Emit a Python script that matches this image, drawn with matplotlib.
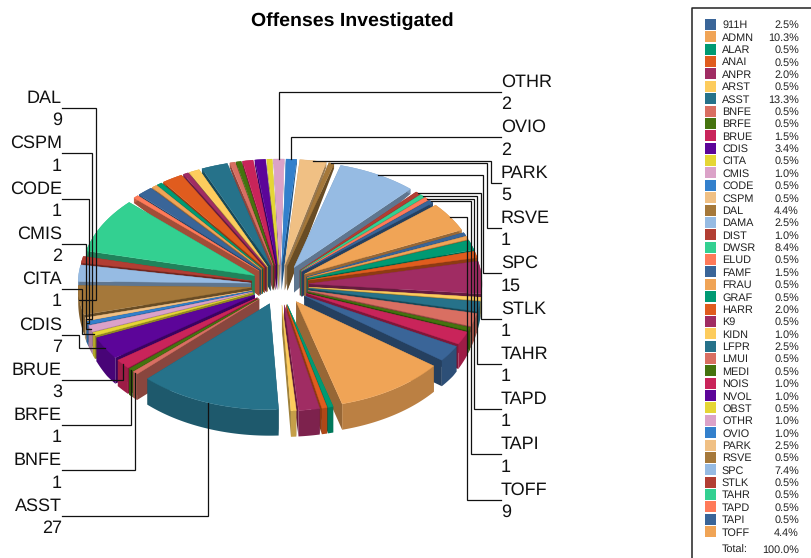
import numpy as np
import matplotlib
matplotlib.use('Agg')
import matplotlib.pyplot as plt
from matplotlib.patches import Polygon, Rectangle

plt.rcParams['font.family'] = ['Liberation Sans', 'DejaVu Sans']
plt.rcParams['text.hinting'] = 'no_hinting'

# data
categories = ['911H', 'ADMN', 'ALAR', 'ANAI', 'ANPR', 'ARST', 'ASST', 'BNFE', 'BRFE', 'BRUE',
              'CDIS', 'CITA', 'CMIS', 'CODE', 'CSPM', 'DAL', 'DAMA', 'DIST', 'DWSR', 'ELUD',
              'FAMF', 'FRAU', 'GRAF', 'HARR', 'K9', 'KIDN', 'LFPR', 'LMUI', 'MEDI', 'NOIS',
              'NVOL', 'OBST', 'OTHR', 'OVIO', 'PARK', 'RSVE', 'SPC', 'STLK', 'TAHR', 'TAPD',
              'TAPI', 'TOFF']
values = [5, 21, 1, 1, 4, 1, 27, 1, 1, 3,
          7, 1, 2, 1, 1, 9, 5, 2, 17, 1,
          3, 1, 1, 4, 1, 2, 5, 1, 1, 2,
          2, 1, 2, 2, 5, 1, 15, 1, 1, 1,
          1, 9]
# slices drawn in the pie that the legend table cuts off (names not shown)
unlisted_values = [1, 1, 3, 2, 10, 1, 3, 4, 1, 4]
total_label = '100.0%'

left_labels = ['DAL', 'CSPM', 'CODE', 'CMIS', 'CITA', 'CDIS', 'BRUE', 'BRFE', 'BNFE', 'ASST']
right_labels = ['OTHR', 'OVIO', 'PARK', 'RSVE', 'SPC', 'STLK', 'TAHR', 'TAPD', 'TAPI', 'TOFF']

palette = ['#3A6598', '#F0A456', '#009A73', '#E05C1E', '#A02C63', '#FDCC5D', '#26728A',
           '#D96F62', '#45730F', '#C9245A', '#5C0599', '#E5D635', '#DBA2C8', '#3380CC',
           '#F0C084', '#A5783A', '#96BBE3', '#B23E33', '#33D091', '#FF7A59']

# leader line columns, None means the line drops straight onto the slice
left_columns = [96, 92, 89, 86, 82, 79, None, None, None, None]
right_columns = [None, None, 491, 487, 483, 481, 477, 474, 471, 467.5]

# pie geometry in pixels
CX, CY = 280, 285
RX, RY = 173, 106
EX, EY = 29, 20
HUB_DEPTH = 25
START = 118.5


def shade(color, k):
    return tuple(c * k for c in matplotlib.colors.to_rgb(color))


def point(theta, rx, ry):
    t = np.radians(theta)
    return np.column_stack([rx * np.sin(t), -ry * np.cos(t)])


def rim_drop(pts):
    # the wall looks thin at the back of the pie and full height at the front
    d = np.interp(pts[:, 1], [190, 240, 350], [5, 6, 26])
    return np.column_stack([np.zeros(len(d)), d])


fig = plt.figure(figsize=(8.12, 5.58), dpi=100)
ax = fig.add_axes([0, 0, 1, 1])
ax.set_xlim(0, 812)
ax.set_ylim(558, 0)
ax.axis('off')

all_values = np.array(values + unlisted_values, dtype=float)
grand_total = all_values.sum()
edges = START + np.concatenate([[0], np.cumsum(all_values)]) / grand_total * 360
mids = (edges[:-1] + edges[1:]) / 2

# back slices first so the front ones paint over them
anchors = {}
order = np.argsort(-np.cos(np.radians(mids)))
for i in order:
    # the palette starts over for the slices the legend does not list
    color_i = i if i < len(categories) else i - len(categories)
    color = palette[color_i % len(palette)]
    a0, a1, mid = edges[i], edges[i + 1], mids[i]
    apex = np.array([CX, CY]) + point(mid, EX, EY)[0]
    arc = apex + point(np.linspace(a0, a1, max(4, int(a1 - a0) * 2)), RX, RY)
    arc_low = arc + rim_drop(arc)
    apex_low = apex + np.array([0, HUB_DEPTH])

    # radial faces then the outer wall
    for end, end_low in ((arc[0], arc_low[0]), (arc[-1], arc_low[-1])):
        face = np.array([apex, end, end_low, apex_low])
        ax.add_patch(Polygon(face, closed=True, fc=shade(color, 0.63), ec='none', zorder=2))
    wall = np.vstack([arc, arc_low[::-1]])
    ax.add_patch(Polygon(wall, closed=True, fc=shade(color, 0.78), ec='none', zorder=2))
    ax.add_patch(Polygon(np.vstack([apex, arc]), closed=True, fc=color,
                         ec=color, lw=0.3, zorder=2))
    if i < len(categories):
        anchors[categories[i]] = apex + point(mid, RX, RY)[0]

ax.text(352, 21, 'Offenses Investigated', fontsize=14, fontweight='bold',
        ha='center', va='center', color='black')

counts = dict(zip(categories, values))


def draw_labels(names, columns, first_y, text_x, line_x, ha):
    for k, (name, col) in enumerate(zip(names, columns)):
        y = first_y + k * 45.3
        ax_, ay = anchors[name]
        xs = [line_x, ax_ if col is None else col, ax_ if col is None else col, ax_]
        ys = [y, y, ay, ay]
        ax.plot(xs, ys, color='#111111', lw=0.9, zorder=5, solid_joinstyle='miter')
        ax.text(text_x, y + 1.5, f'{name}\n{counts[name]}', fontsize=13, ha=ha, va='center',
                linespacing=1.42, color='#111111', zorder=6)


draw_labels(left_labels, left_columns, 108, 62, 62, 'right')
draw_labels(right_labels, right_columns, 92, 501, 501, 'left')

# legend table, runs off the right and bottom of the picture
ax.plot([692, 692, 812], [558, 8, 8], color='#222222', lw=1.1, zorder=5)
row_h = 12.37
for i, (name, value) in enumerate(zip(categories, values)):
    y = 24.5 + i * row_h
    ax.add_patch(Rectangle((705, y - 5.5), 11, 11, fc=palette[i % len(palette)], ec='none'))
    ax.text(722, y + 3.8, name, fontsize=7.8, ha='left', va='baseline', color='#222222')
    ax.text(799, y + 3.8, f'{value / grand_total * 100:.1f}%', fontsize=7.8, ha='right',
            va='baseline', color='#222222')
ax.text(722, 552.5, 'Total:', fontsize=7.8, ha='left', va='baseline', color='#222222')
ax.text(799, 552.5, total_label, fontsize=7.8, ha='right', va='baseline', color='#222222')

fig.savefig('out.png', dpi=100)
plt.close(fig)
